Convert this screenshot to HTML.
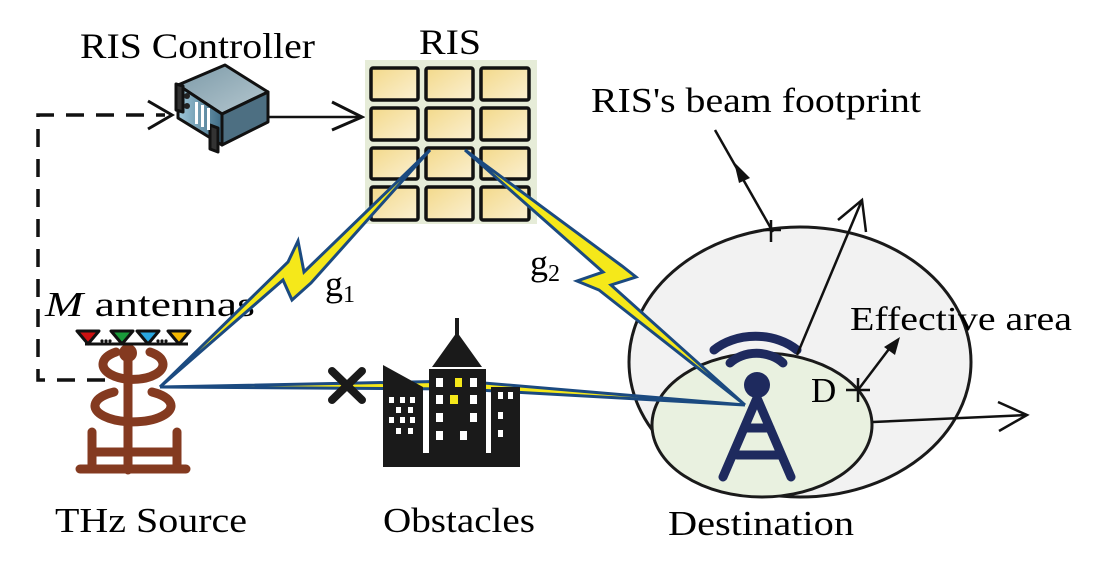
<!DOCTYPE html>
<html><head><meta charset="utf-8"><style>
html,body{margin:0;padding:0;background:#fff;}
svg{display:block;font-family:"Liberation Serif",serif;}
</style></head><body>
<svg width="1100" height="571" viewBox="0 0 1100 571" xmlns="http://www.w3.org/2000/svg">
<defs>
<linearGradient id="cell" x1="0" y1="0" x2="1" y2="1">
<stop offset="0" stop-color="#f3d98a"/><stop offset="1" stop-color="#fbf0d2"/></linearGradient>
<linearGradient id="srv" x1="0" y1="0" x2="1" y2="0">
<stop offset="0" stop-color="#9fc8da"/><stop offset="1" stop-color="#3f6c85"/></linearGradient>
<linearGradient id="top" x1="0" y1="0" x2="1" y2="1">
<stop offset="0" stop-color="#7c9aa8"/><stop offset="1" stop-color="#b6c8d0"/></linearGradient>
</defs>

<!-- Ellipses -->
<ellipse cx="800" cy="362" rx="171" ry="135" fill="#f2f2f2" stroke="#1a1a1a" stroke-width="3"/>
<ellipse cx="762" cy="425" rx="110" ry="72" fill="#e9f1e0" stroke="#1a1a1a" stroke-width="3"/>

<!-- Labels -->
<text x="80" y="58" font-size="36" textLength="235" lengthAdjust="spacingAndGlyphs">RIS Controller</text>
<text x="419" y="54" font-size="36" textLength="62" lengthAdjust="spacingAndGlyphs">RIS</text>
<text x="591" y="112" font-size="35" textLength="330" lengthAdjust="spacingAndGlyphs">RIS's beam footprint</text>
<text x="850" y="330" font-size="34" textLength="222" lengthAdjust="spacingAndGlyphs">Effective area</text>
<text x="45" y="316" font-size="35" textLength="210" lengthAdjust="spacingAndGlyphs"><tspan font-style="italic">M</tspan> antennas</text>
<text x="55" y="532" font-size="35" textLength="192" lengthAdjust="spacingAndGlyphs">THz Source</text>
<text x="383" y="532" font-size="35" textLength="152" lengthAdjust="spacingAndGlyphs">Obstacles</text>
<text x="668" y="535" font-size="35" textLength="186" lengthAdjust="spacingAndGlyphs">Destination</text>
<text x="325" y="296" font-size="36">g<tspan font-size="24" dy="6">1</tspan></text>
<text x="530" y="275" font-size="36">g<tspan font-size="24" dy="6">2</tspan></text>
<text x="811" y="402" font-size="35">D</text>

<!-- dashed control line -->
<path d="M105 380 H38 V115 H165" fill="none" stroke="#111" stroke-width="3.5" stroke-dasharray="18 12"/>
<path d="M148 101 L172 115 L148 129" fill="none" stroke="#111" stroke-width="3"/>

<!-- Controller to RIS -->
<path d="M268 117 H362" stroke="#111" stroke-width="2.5"/>
<path d="M332 102 L362 117 L332 130" fill="none" stroke="#111" stroke-width="3"/>

<!-- server -->
<g stroke="#111" stroke-width="3" stroke-linejoin="round">
<polygon points="178,85 225,65 268,92 222,114" fill="url(#top)"/>
<polygon points="178,85 222,114 222,145 178,118" fill="url(#srv)"/>
<polygon points="222,114 268,92 268,122 222,145" fill="#4d6f82"/>
<polygon points="176,84 183,86 183,112 176,110" fill="#333"/>
<polygon points="210,125 218,128 218,152 210,149" fill="#333"/>
</g>
<circle cx="187" cy="96" r="3" fill="#222"/><circle cx="187" cy="106" r="3" fill="#222"/>
<rect x="195" y="102" width="3" height="22" fill="#fff"/><rect x="201" y="105" width="3" height="22" fill="#fff"/><rect x="207" y="108" width="3" height="22" fill="#fff"/>

<!-- RIS panel -->
<rect x="365" y="60" width="172" height="164" fill="#e6ecd8"/>
<g fill="url(#cell)" stroke="#111" stroke-width="3.5">
<rect x="371" y="68" width="47" height="32" rx="2"/><rect x="426" y="68" width="47" height="32" rx="2"/><rect x="481" y="68" width="48" height="32" rx="2"/>
<rect x="371" y="108" width="47" height="32" rx="2"/><rect x="426" y="108" width="47" height="32" rx="2"/><rect x="481" y="108" width="48" height="32" rx="2"/>
<rect x="371" y="148" width="47" height="31" rx="2"/><rect x="426" y="148" width="47" height="31" rx="2"/><rect x="481" y="148" width="48" height="31" rx="2"/>
<rect x="371" y="187" width="47" height="33" rx="2"/><rect x="426" y="187" width="47" height="33" rx="2"/><rect x="481" y="187" width="48" height="33" rx="2"/>
</g>

<!-- beams -->
<g fill="#f5e81a" stroke="#1b4a80" stroke-width="3" stroke-linejoin="miter">
<polygon points="160,387 288,262 298,241 304,272 430,150 311,283 292,300 283,280"/>
<polygon points="465,150 622,266 636,277 611,285 745,405 599,290 577,281 603,272"/>
<polygon points="160,387 460,381 745,405 460,389"/>
</g>

<!-- building -->
<g fill="#1a1a1a">
<polygon points="383,465 383,365 423,387 423,465"/>
<rect x="429" y="369" width="57" height="96"/>
<polygon points="432,367 457,332 482,367"/>
<rect x="455" y="318" width="4" height="18"/>
<rect x="491" y="387" width="29" height="78"/>
<rect x="383" y="453" width="137" height="14"/>
</g>
<g fill="#fff">
<rect x="389" y="397" width="5" height="6"/><rect x="400" y="397" width="5" height="6"/><rect x="410" y="397" width="5" height="6"/>
<rect x="396" y="407" width="5" height="6"/><rect x="408" y="407" width="5" height="6"/>
<rect x="389" y="417" width="5" height="6"/><rect x="400" y="417" width="5" height="6"/><rect x="410" y="417" width="5" height="6"/>
<rect x="396" y="428" width="5" height="6"/><rect x="408" y="428" width="5" height="6"/>
<rect x="436" y="378" width="7" height="9"/><rect x="470" y="378" width="7" height="9"/>
<rect x="436" y="395" width="7" height="9"/><rect x="470" y="395" width="7" height="9"/>
<rect x="436" y="413" width="7" height="9"/><rect x="470" y="413" width="7" height="9"/>
<rect x="436" y="431" width="7" height="9"/><rect x="460" y="431" width="7" height="9"/>
<rect x="498" y="392" width="5" height="7"/><rect x="508" y="392" width="5" height="7"/><rect x="498" y="412" width="5" height="7"/><rect x="498" y="430" width="5" height="7"/>
</g>
<g fill="#f5e81a"><rect x="455" y="378" width="7" height="9"/><rect x="450" y="395" width="8" height="9"/></g>
<!-- X -->
<path d="M332 371 L362 400 M362 371 L332 400" stroke="#1a1a1a" stroke-width="8" stroke-linecap="round"/>

<!-- antenna -->
<g stroke="#843a20" stroke-width="9" fill="none" stroke-linecap="round">
<path d="M128 355 V470"/>
<path d="M80 469 H186"/>
<path d="M92 432 V469 M177 432 V469 M92 452 H177"/>
<path d="M116 352 A30 15 0 1 0 150 352"/>
<path d="M114 392 A38 16 0 1 0 152 392"/>
</g>
<circle cx="128" cy="353" r="9" fill="#843a20"/>
<g stroke="#111" stroke-width="3" stroke-linejoin="round">
<path d="M85 344 H188" />
<polygon points="77,331 99,331 88,344" fill="#c11"/>
<polygon points="111,331 133,331 122,344" fill="#1a9a3a"/>
<polygon points="137,331 159,331 148,344" fill="#2aa7e0"/>
<polygon points="168,331 190,331 179,344" fill="#f5b800"/>
</g>
<g fill="#111"><circle cx="102" cy="341" r="1.6"/><circle cx="106" cy="341" r="1.6"/><circle cx="110" cy="341" r="1.6"/><circle cx="158" cy="341" r="1.6"/><circle cx="162" cy="341" r="1.6"/><circle cx="166" cy="341" r="1.6"/></g>

<!-- destination tower -->
<g stroke="#1e2a5e" stroke-width="9" stroke-linecap="round" fill="none">
<path d="M757 398 L723 477 M757 398 L791 477 M745 428 H770 M737 455 H779"/>
<path d="M714 350 A55 40 0 0 1 797 350"/>
<path d="M730 363 A35 28 0 0 1 783 363"/>
</g>
<circle cx="757" cy="385" r="13" fill="#1e2a5e"/>

<!-- arrows in footprint -->
<g stroke="#111" stroke-width="2.5" fill="none">
<path d="M797 355 L862 200"/>
<path d="M838 220 L862 200 L866 232"/>
<path d="M873 422 L1027 415"/>
<path d="M998 402 L1027 415 L999 431"/>
<path d="M715 130 L773 232"/>
<path d="M763 230 H781 M771 220 V242" />
<path d="M858 378 V402 M846 390 H870"/>
<path d="M858 390 L892 345"/>
</g>
<polygon points="734,162 750,178 739,183" fill="#111"/>
<polygon points="900,337 884,347 895,355" fill="#111"/>
</svg>
</body></html>
